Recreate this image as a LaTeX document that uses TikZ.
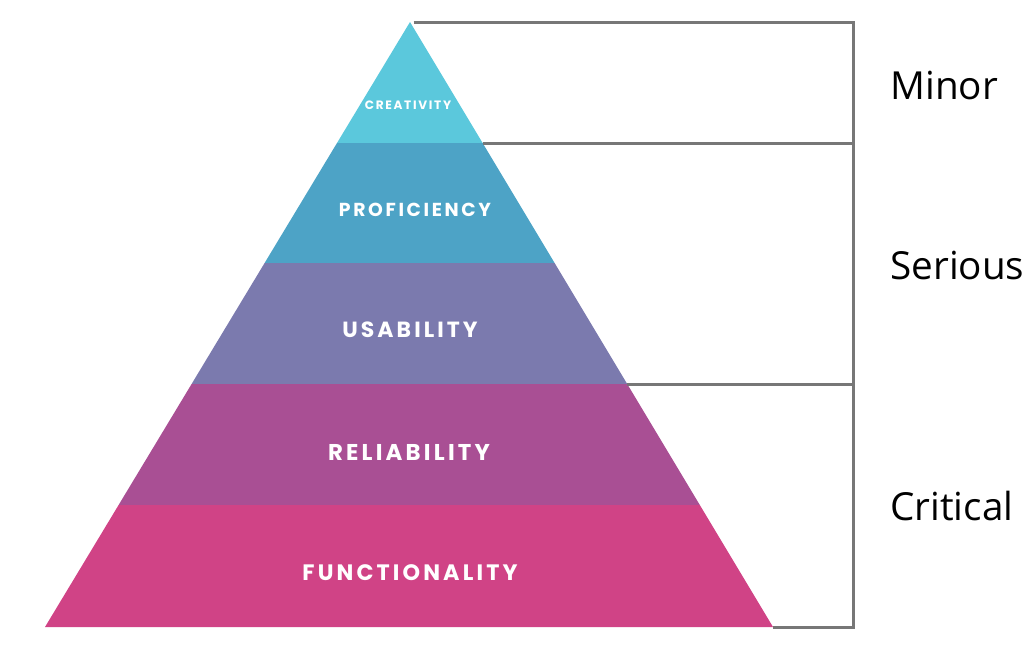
\documentclass[tikz,border=0pt]{standalone}
\usepackage{fontspec}
\setmainfont{Open Sans}
\newfontfamily\layerfont{Poppins}[LetterSpace=14]

\definecolor{creativity}{HTML}{5BC8DC}
\definecolor{proficiency}{HTML}{4DA3C6}
\definecolor{usability}{HTML}{7B7AAE}
\definecolor{reliability}{HTML}{A94F94}
\definecolor{functionality}{HTML}{D04386}
\definecolor{bracketgray}{HTML}{777777}

\begin{document}
\begin{tikzpicture}[
   x=0.02cm,
   y=-0.02cm,
   layer/.style={
      text=white,
      inner sep=0pt,
      font=\layerfont\bfseries\fontsize{#1}{#1}\selectfont
   },
   layer/.default=12.6,
   bracket/.style={
      draw=bracketgray,
      line width=1.7pt
   },
   level/.style={
      anchor=west,
      inner sep=0pt,
      font=\fontsize{22}{26}\selectfont
   }
]

   \useasboundingbox (0,0) rectangle (1028,657);

   % Pyramid corners
   \coordinate (apex) at (410,22);
   \coordinate (l1) at (337.0,143);
   \coordinate (r1) at (482.6,143);
   \coordinate (l2) at (264.6,263);
   \coordinate (r2) at (554.6,263);
   \coordinate (l3) at (191.6,384);
   \coordinate (r3) at (627.2,384);
   \coordinate (l4) at (118.6,505);
   \coordinate (r4) at (699.8,505);
   \coordinate (l5) at (45,627);
   \coordinate (r5) at (773,627);

   % Layers
   \fill[creativity] (apex) -- (r1) -- (l1) -- cycle;
   \fill[proficiency] (l1) -- (r1) -- (r2) -- (l2) -- cycle;
   \fill[usability] (l2) -- (r2) -- (r3) -- (l3) -- cycle;
   \fill[reliability] (l3) -- (r3) -- (r4) -- (l4) -- cycle;
   \fill[functionality] (l4) -- (r4) -- (r5) -- (l5) -- cycle;

   \node[layer=6.9] (creativitylabel) at (408,105) {CREATIVITY};
   \node[layer=10.7] (proficiencylabel) at (415,210) {PROFICIENCY};
   \node[layer=12.5] (usabilitylabel) at (410,330) {USABILITY};
   \node[layer=13] (reliabilitylabel) at (409,452) {RELIABILITY};
   \node[layer=12.7] (functionalitylabel) at (410,573) {FUNCTIONALITY};

   % Bracket
   \coordinate (topend) at (853,22);
   \coordinate (minorend) at (853,143);
   \coordinate (seriousend) at (853,384);
   \coordinate (baseend) at (853,627);

   \draw[bracket] ([xshift=2]apex) -- (topend) -- (baseend) -- (r5);
   \draw[bracket] (r1) -- (minorend);
   \draw[bracket] (r3) -- (seriousend);

   % Levels
   \node[level] (minor) at (890,85) {Minor};
   \node[level] (serious) at (890,265) {Serious};
   \node[level] (critical) at (890,506) {Critical};

\end{tikzpicture}
\end{document}
